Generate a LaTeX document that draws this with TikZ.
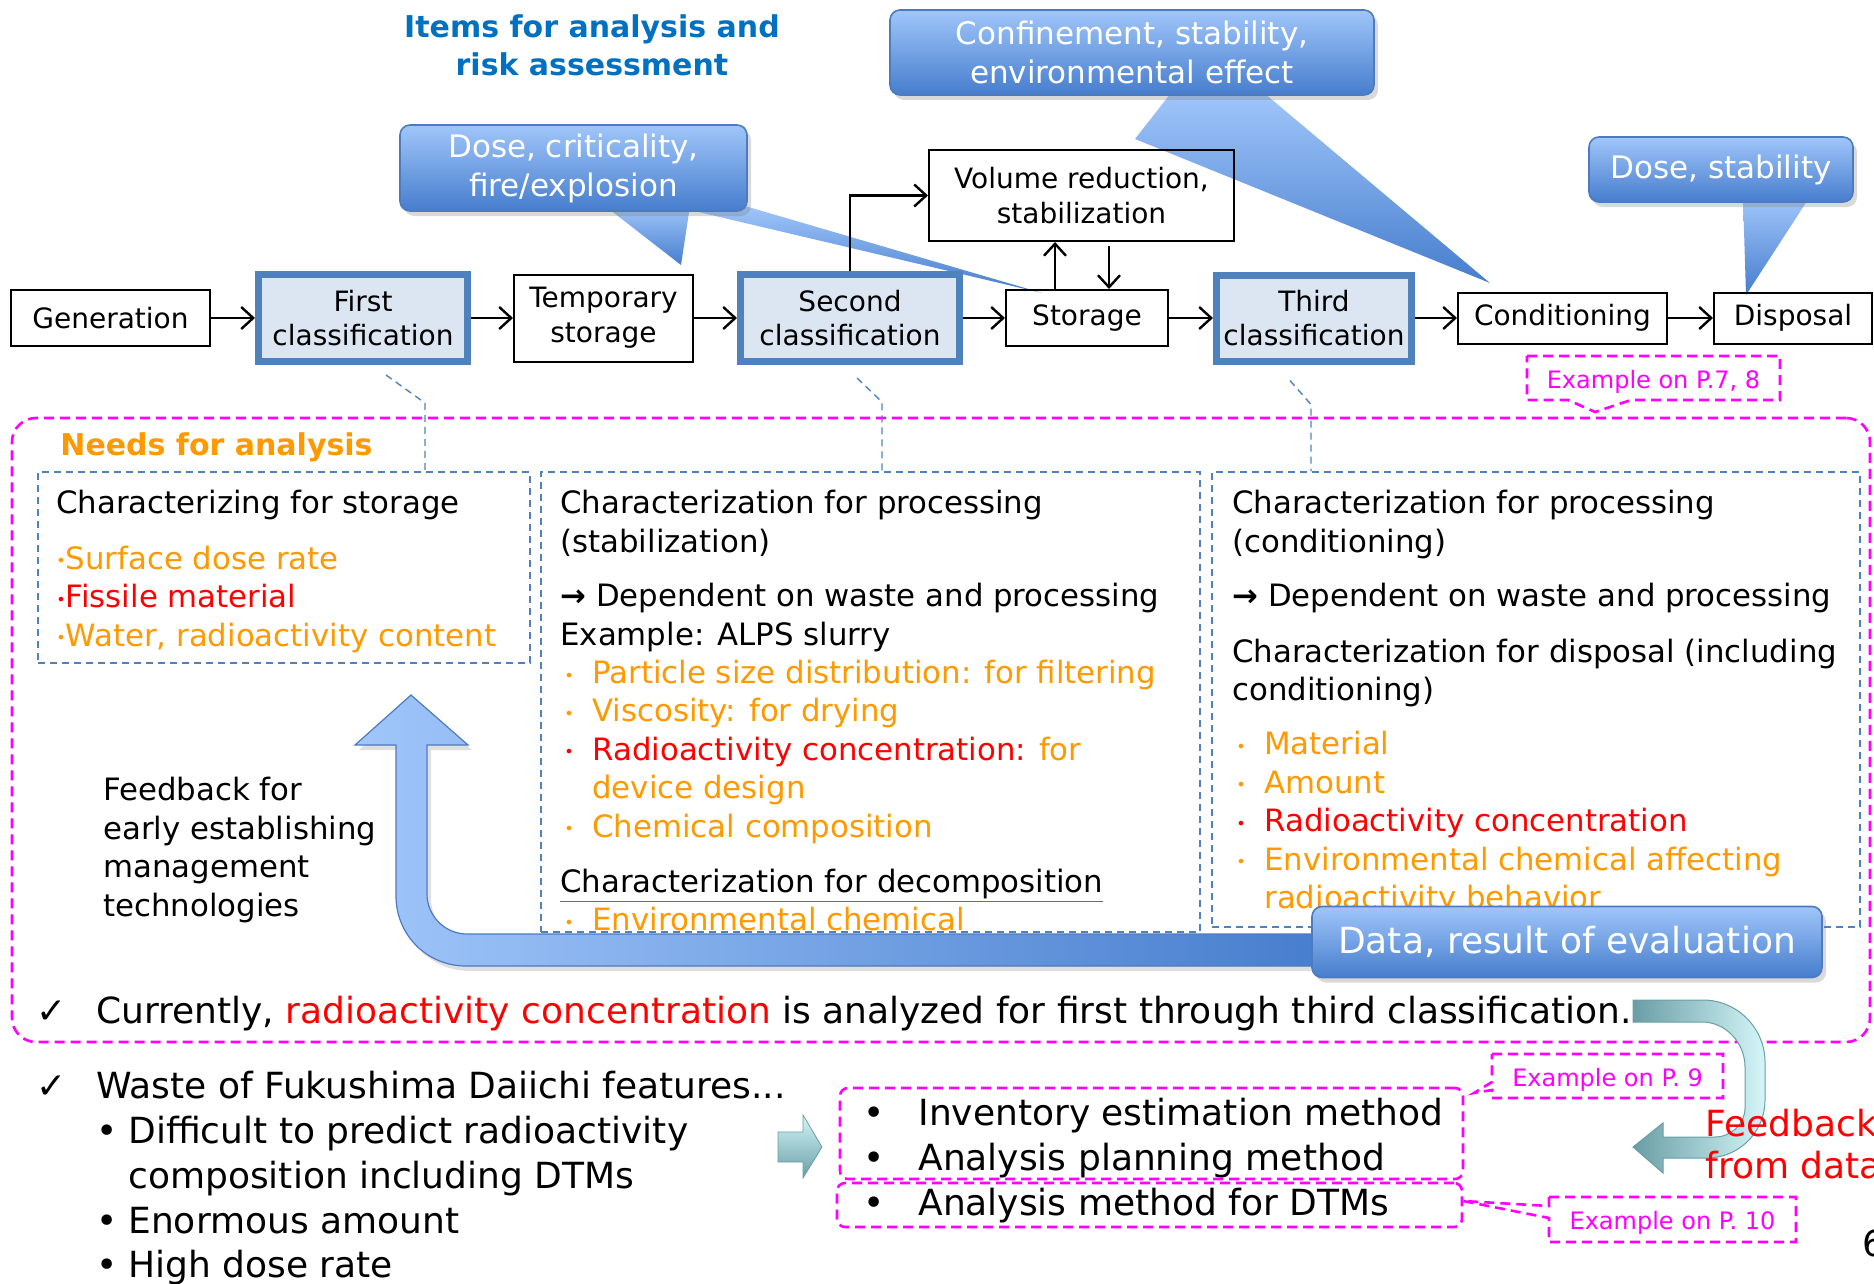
\documentclass[tikz,border=0pt]{standalone}
\usepackage{fontspec}
\setmainfont{DejaVu Sans}
\usetikzlibrary{arrows.meta,calc,positioning,shadows}
\definecolor{flowBlue}{RGB}{79,129,189}
\definecolor{flowFill}{RGB}{220,230,242}
\definecolor{calloutTop}{RGB}{160,198,250}
\definecolor{calloutBot}{RGB}{70,125,205}
\definecolor{calloutEdge}{RGB}{78,122,190}
\definecolor{titleBlue}{RGB}{0,112,192}
\definecolor{needOrange}{RGB}{255,153,0}
\definecolor{needRed}{RGB}{255,0,0}
\definecolor{exPink}{RGB}{255,0,255}
\definecolor{lineBlue}{RGB}{68,114,196}
\definecolor{tealDark}{RGB}{105,158,165}
\definecolor{tealLight}{RGB}{212,246,248}
\newcommand{\flowfont}{\fontsize{14}{17.3}\selectfont}
\newcommand{\colfont}{\fontsize{15.4}{19.2}\selectfont}
\newcommand{\calloutfont}{\fontsize{15.5}{19.5}\selectfont}
\newcommand{\listfont}{\fontsize{18}{22.4}\selectfont}
\newcommand{\smdot}{\raisebox{1.2pt}{\fontsize{8}{8}\selectfont •}}
\newcommand{\bul}{\makebox[16pt][l]{\hspace{2pt}\smdot}}
\newcommand{\barrow}{{\bfseries →}}

\begin{document}
\begin{tikzpicture}[x=0.5pt,y=-0.5pt,
  flowbox/.style={draw,line width=1pt,align=center,inner sep=0pt,font=\flowfont},
  classbox/.style={flowbox,draw=flowBlue,fill=flowFill,line width=3.5pt},
  flowarrow/.style={-{Straight Barb[length=6pt,width=11pt]},line width=1.2pt},
  callout/.style={rounded corners=5pt,draw=calloutEdge,line width=0.8pt,
    top color=calloutTop,bottom color=calloutBot,text=white,align=center,
    inner sep=0pt,font=\calloutfont,
    drop shadow={opacity=0.3,shadow xshift=2pt,shadow yshift=-2.5pt}},
  callouttail/.style={top color=calloutTop,bottom color=calloutBot},
  needbox/.style={draw=flowBlue,line width=0.7pt,dash pattern=on 3.5pt off 2.5pt,inner sep=0pt},
  linkdash/.style={draw=flowBlue,line width=0.7pt,dash pattern=on 3.5pt off 2.5pt},
  pinkdash/.style={draw=exPink,line width=1.3pt,dash pattern=on 5pt off 3pt},
  extext/.style={text=exPink,font=\fontsize{12}{14}\selectfont,inner sep=0pt},
  coltext/.style={anchor=north west,align=left,inner sep=0pt,font=\colfont},
]
\useasboundingbox (0,0) rectangle (1874,1284);
\clip (0,0) rectangle (1874,1284);

% title
\node[font=\bfseries\fontsize{15}{19}\selectfont,text=titleBlue,align=center] (title) at (592,45)
  {Items for analysis and\\risk assessment};

% callouts: tails first, boxes on top
\path[callouttail] (1171,93) -- (1135,139) -- (1490,283) -- (1264,93) -- cycle;
\path[callouttail] (605,206) -- (681,265) -- (690,206) -- cycle;
\path[callouttail] (690,210) -- (1042,293) -- (745,206) -- cycle;
\path[callouttail] (1743,198) -- (1746,295) -- (1809,198) -- cycle;
\node[callout,minimum width=242pt,minimum height=42.5pt] (conf) at (1132,52.5)
  {Confinement, stability,\\environmental effect};
\node[callout,minimum width=173.5pt,minimum height=43pt] (dosecrit) at (573.5,168)
  {Dose, criticality,\\fire/explosion};
\node[callout,minimum width=132pt,minimum height=32.5pt] (dosestab) at (1721,169.5)
  {Dose, stability};

% process chain
\node[flowbox,minimum width=99.5pt,minimum height=28pt] (gen) at (110.5,318) {Generation};
\node[classbox,minimum width=104.5pt,minimum height=43.5pt] (first) at (363,318) {First\\classification};
\node[flowbox,minimum width=89.5pt,minimum height=43.5pt] (temp) at (603.5,318) {Temporary\\storage};
\node[classbox,minimum width=109.5pt,minimum height=43.5pt] (second) at (850,318) {Second\\classification};
\node[flowbox,minimum width=81pt,minimum height=28pt] (store) at (1087,318) {Storage};
\node[flowbox,minimum width=152.5pt,minimum height=45.5pt] (volred) at (1081.5,195.5) {Volume reduction,\\stabilization};
\node[classbox,minimum width=97.5pt,minimum height=43pt] (third) at (1314,318) {Third\\classification};
\node[flowbox,minimum width=104.5pt,minimum height=25.5pt] (cond) at (1562.5,318) {Conditioning};
\node[flowbox,minimum width=79pt,minimum height=25.5pt] (disp) at (1793,318) {Disposal};

\draw[flowarrow] (gen.east) -- (first.west);
\draw[flowarrow] (first.east) -- (temp.west);
\draw[flowarrow] (temp.east) -- (second.west);
\draw[flowarrow] (second.east) -- (store.west);
\draw[flowarrow] (store.east) -- (third.west);
\draw[flowarrow] (third.east) -- (cond.west);
\draw[flowarrow] (cond.east) -- (disp.west);
\draw[flowarrow] (second.north) |- (volred.west);
\draw[flowarrow] ($(store.north)+(-32,0)$) -- ($(volred.south)+(-26.5,0)$);
\draw[flowarrow] ($(volred.south)+(27.5,4)$) -- ($(store.north)+(22,0)$);

% needs for analysis
\node[pinkdash,rounded corners=12pt,minimum width=929pt,minimum height=312pt,inner sep=0pt] (needs) at (941,730) {};
\node[extext] (ex78) at (1653.5,382) {Example on P.7, 8};
\draw[pinkdash] (1527,356) -- (1780,356) -- (1780,400) -- (1631,400) -- (1595,412) -- (1568,400) -- (1527,400) -- cycle;

\node[needbox,minimum width=246pt,minimum height=95.5pt] (col1) at (284,567.5) {};
\node[needbox,minimum width=329.5pt,minimum height=230pt] (col2) at (870.5,702) {};
\node[needbox,minimum width=324pt,minimum height=227.5pt] (col3) at (1536,699.5) {};

\coordinate (l1) at ($(first.south)+(23,10)$);
\coordinate (l2) at ($(second.south)+(7,13)$);
\coordinate (l3) at ($(third.south)+(-24,16)$);
\draw[linkdash] (l1) -- ++(39,28) coordinate (l1k) -- (l1k |- col1.north);
\draw[linkdash] (l2) -- ++(25,24) coordinate (l2k) -- (l2k |- col2.north);
\draw[linkdash] (l3) -- ++(21,24) coordinate (l3k) -- (l3k |- col3.north);

\node[font=\bfseries\fontsize{15}{18}\selectfont,text=needOrange,anchor=west,inner sep=0pt] (needtitle) at (60,447) {Needs for analysis};

\node[coltext] (col1txt) at (56,490) {Characterizing for storage\\[8.5pt]
  \textcolor{needOrange}{\smdot Surface dose rate}\\
  \textcolor{needRed}{\smdot Fissile material}\\
  \textcolor{needOrange}{\smdot Water, radioactivity content}};

\node[coltext] (col2txt) at (560,490) {Characterization for processing\\
  (stabilization)\\[8pt]
  \barrow{} Dependent on waste and processing\\
  Example: ALPS slurry\\
  \textcolor{needOrange}{\bul Particle size distribution: for filtering}\\
  \textcolor{needOrange}{\bul Viscosity: for drying}\\
  \textcolor{needRed}{\bul Radioactivity concentration:} \textcolor{needOrange}{for}\\
  \hspace*{16pt}\textcolor{needOrange}{device design}\\
  \textcolor{needOrange}{\bul Chemical composition}\\[8.5pt]
  \textcolor{lineBlue}{\underline{\textcolor{black}{Characterization for decomposition}}}\\
  \textcolor{needOrange}{\bul Environmental chemical}};

\node[coltext] (col3txt) at (1232,490) {Characterization for processing\\
  (conditioning)\\[8pt]
  \barrow{} Dependent on waste and processing\\[8.5pt]
  Characterization for disposal (including\\
  conditioning)\\[8pt]
  \textcolor{needOrange}{\bul Material}\\
  \textcolor{needOrange}{\bul Amount}\\
  \textcolor{needRed}{\bul Radioactivity concentration}\\
  \textcolor{needOrange}{\bul Environmental chemical affecting}\\
  \hspace*{16pt}\textcolor{needOrange}{radioactivity behavior}};

\node[coltext] (fbtext) at (103,777) {Feedback for\\early establishing\\management\\technologies};

% feedback arrow back to the first column
\path[left color=calloutTop,right color=calloutBot,draw=calloutEdge,line width=0.6pt,
  drop shadow={opacity=0.25,shadow xshift=2pt,shadow yshift=-2.5pt}]
  (1330,934) -- (467,934) .. controls (445,934) and (427,916) .. (427,894)
  -- (427,745) -- (468,745) -- (411,695) -- (355,745) -- (396,745)
  -- (396,896) .. controls (396,935) and (427,966) .. (466,966) -- (1330,966) -- cycle;
\node[callout,font=\listfont,minimum width=255pt,minimum height=35.5pt] (data) at (1567,942)
  {Data, result of evaluation};

\node[anchor=north west,inner sep=0pt,font=\listfont] (currently) at (36,996)
  {\makebox[30pt][l]{✓}Currently, \textcolor{needRed}{radioactivity concentration} is analyzed for first through third classification.};

% feedback from data
\path[left color=tealDark,right color=tealLight,draw=tealDark,line width=0.5pt]
  (1633,1000) -- (1703,1000) .. controls (1737,1000) and (1765,1028) .. (1765,1062)
  -- (1765,1100) .. controls (1765,1132) and (1739,1158) .. (1707,1158)
  -- (1663,1158) -- (1663,1173) -- (1633,1147) -- (1663,1123) -- (1663,1137)
  -- (1715,1137) .. controls (1731,1137) and (1745,1124) .. (1745,1108)
  -- (1745,1067) .. controls (1745,1043) and (1726,1022) .. (1702,1022)
  -- (1633,1022) -- cycle;
\node[anchor=north west,align=left,inner sep=0pt,font=\fontsize{18}{21}\selectfont,text=needRed] (fbdata) at (1705,1109)
  {Feedback\\from data};

% bottom part
\node[anchor=north west,align=left,inner sep=0pt,font=\listfont] (waste) at (36,1071)
  {\makebox[30pt][l]{✓}Waste of Fukushima Daiichi features...\\
  \hspace*{30pt}\makebox[16pt][l]{•}Difficult to predict radioactivity\\
  \hspace*{46pt}composition including DTMs\\
  \hspace*{30pt}\makebox[16pt][l]{•}Enormous amount\\
  \hspace*{30pt}\makebox[16pt][l]{•}High dose rate};

\path[top color=tealLight,bottom color=tealDark,draw=tealDark,line width=0.4pt]
  (778,1132) -- (803,1132) -- (803,1115) -- (822,1147) -- (803,1178) -- (803,1162) -- (778,1162) -- cycle;

\node[pinkdash,rounded corners=4pt,minimum width=311.5pt,minimum height=45.5pt,inner sep=0pt] (invbox) at (1151.5,1133.5) {};
\node[pinkdash,rounded corners=4pt,minimum width=312.5pt,minimum height=22pt,inner sep=0pt] (dtmbox) at (1149.5,1205) {};
\node[anchor=north west,align=left,inner sep=0pt,font=\fontsize{18}{22.5}\selectfont] (invtxt) at (863,1098)
  {\makebox[27.5pt][l]{•}Inventory estimation method\\
  \makebox[27.5pt][l]{•}Analysis planning method};
\node[anchor=north west,align=left,inner sep=0pt,font=\listfont] (dtmtxt) at (863,1188)
  {\makebox[27.5pt][l]{•}Analysis method for DTMs};

\node[extext] (ex9) at (1607.5,1080) {Example on P. 9};
\draw[pinkdash] (1492,1054) -- (1723,1054) -- (1723,1098) -- (1492,1098) -- (1492,1090) -- (1474,1093) -- (1492,1082) -- cycle;
\node[extext] (ex10) at (1672.5,1223) {Example on P. 10};
\draw[pinkdash] (1549,1197) -- (1796,1197) -- (1796,1242) -- (1549,1242) -- (1549,1218) -- (1463,1201) -- (1549,1206) -- cycle;

\node[anchor=west,inner sep=0pt,font=\listfont] (pagenum) at (1862,1243) {6};
\end{tikzpicture}
\end{document}
